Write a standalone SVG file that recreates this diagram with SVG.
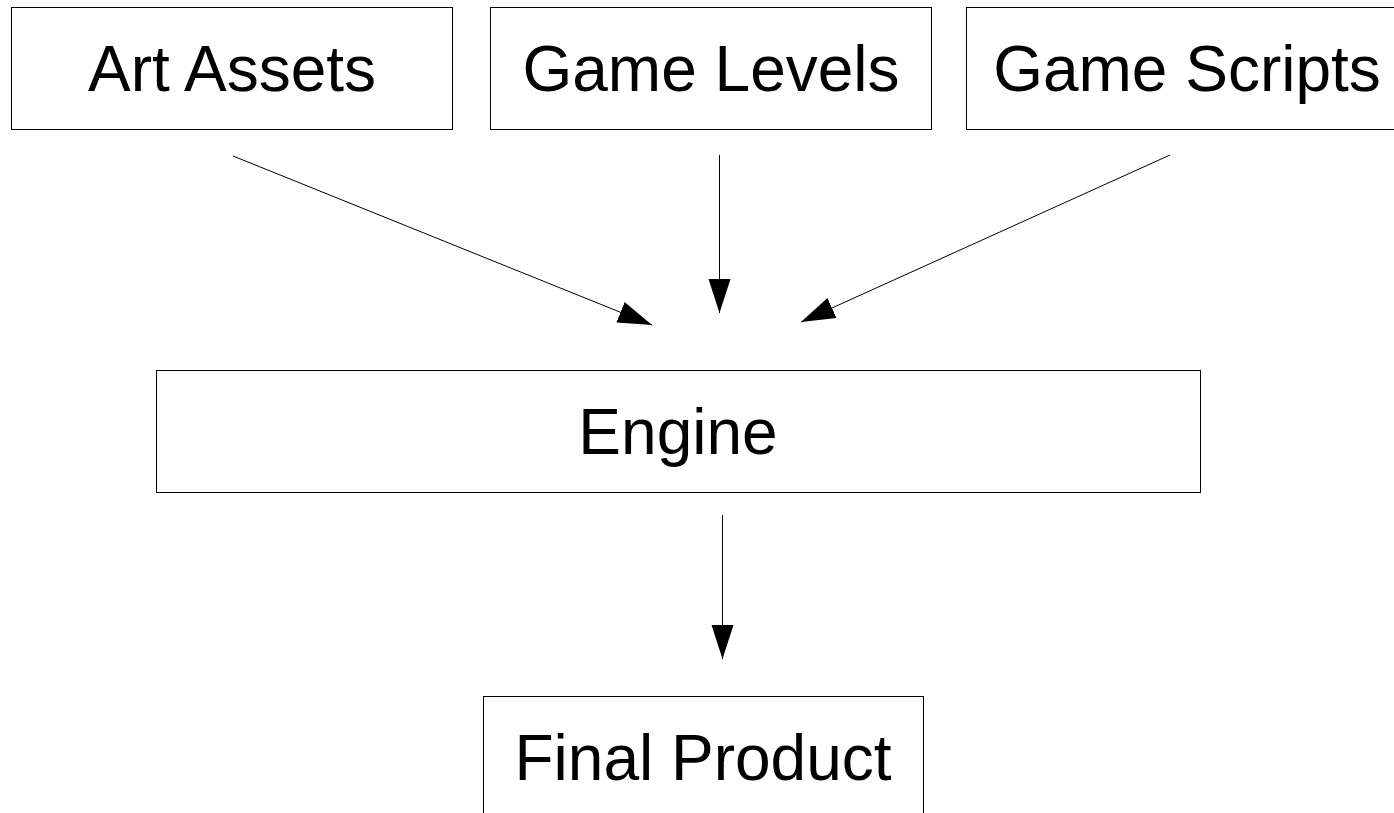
<svg xmlns="http://www.w3.org/2000/svg" width="1394" height="813" viewBox="0 0 1394 813">
<style>
.box{fill:#fff;stroke:#000;stroke-width:1}
.lbl{font-family:"Liberation Sans",Arial,sans-serif;font-size:64px;fill:#000;text-anchor:middle}
.con{stroke:#000;stroke-width:1;fill:none}
</style>
<defs>
<marker id="ah" markerUnits="userSpaceOnUse" markerWidth="36" markerHeight="24" refX="34" refY="11" orient="auto" viewBox="0 0 36 22">
<path d="M0,0 L34,11 L0,22 Z" fill="#000"/>
</marker>
</defs>
<rect width="1394" height="813" fill="#fff"/>
<g id="art-assets"><rect class="box" x="11.5" y="7.5" width="441" height="122"/><text class="lbl" x="232" y="91">Art Assets</text></g>
<g id="game-levels"><rect class="box" x="490.5" y="7.5" width="441" height="122"/><text class="lbl" x="711" y="91">Game Levels</text></g>
<g id="game-scripts"><rect class="box" x="966.5" y="7.5" width="441" height="122"/><text class="lbl" x="1187" y="91">Game Scripts</text></g>
<g id="engine"><rect class="box" x="156.5" y="370.5" width="1044" height="122"/><text class="lbl" x="678" y="454">Engine</text></g>
<g id="final-product"><rect class="box" x="483.5" y="696.5" width="440" height="122"/><text class="lbl" x="703" y="780">Final Product</text></g>
<g id="connectors">
<line class="con" x1="233" y1="156" x2="652" y2="325" marker-end="url(#ah)"/>
<line class="con" x1="719.5" y1="155" x2="719.5" y2="313" marker-end="url(#ah)"/>
<line class="con" x1="1170" y1="155" x2="801" y2="322" marker-end="url(#ah)"/>
<line class="con" x1="722.5" y1="515" x2="722.5" y2="659" marker-end="url(#ah)"/>
</g>
</svg>
